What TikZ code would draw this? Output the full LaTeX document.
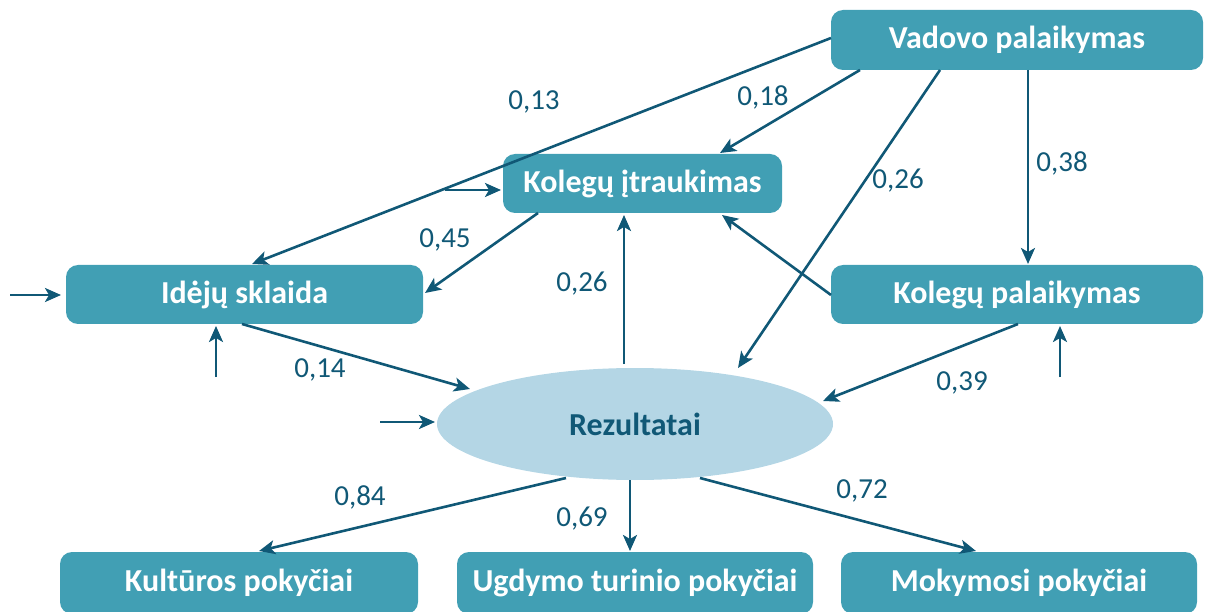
\documentclass[tikz,border=0pt]{standalone}
\usepackage{fontspec}
\setmainfont{Carlito}
\usetikzlibrary{arrows.meta,shapes.geometric}
\definecolor{boxteal}{RGB}{65,159,180}
\definecolor{ovalblue}{RGB}{180,214,229}
\definecolor{linkblue}{RGB}{16,88,118}
\tikzset{
  factor/.style={draw=none, fill=boxteal, rounded corners=12pt, text=white,
    font=\fontsize{32}{34}\selectfont\bfseries, inner sep=0pt},
  outcome/.style={ellipse, fill=ovalblue, draw=none, text=linkblue,
    font=\fontsize{32}{34}\selectfont\bfseries, inner sep=0pt},
  path/.style={draw=linkblue, line width=2.6pt,
    -{Stealth[length=16pt,width=14pt,inset=4pt]}},
  coef/.style={text=linkblue, font=\fontsize{29}{31}\selectfont, inner sep=0pt}
}
\begin{document}
\begin{tikzpicture}[x=1pt,y=-1pt]
\useasboundingbox (0,0) rectangle (1205,612);

% constructs
\node[factor, minimum width=372pt, minimum height=60pt] (vad) at (1017,40) {Vadovo palaikymas};
\node[factor, minimum width=279pt, minimum height=59pt] (itr) at (642.5,183.5) {Kolegų įtraukimas};
\node[factor, minimum width=357pt, minimum height=59pt] (ide) at (244.5,294.5) {Idėjų sklaida};
\node[factor, minimum width=372pt, minimum height=59pt] (kol) at (1017,294.5) {Kolegų palaikymas};
\node[outcome, minimum width=396pt, minimum height=112pt] (rez) at (635,424) {Rezultatai};
\node[factor, minimum width=358pt, minimum height=62pt] (kul) at (239,583) {Kultūros pokyčiai};
\node[factor, minimum width=356pt, minimum height=62pt] (ugd) at (635,583) {Ugdymo turinio pokyčiai};
\node[factor, minimum width=356pt, minimum height=62pt] (mok) at (1019,583) {Mokymosi pokyčiai};

% anchor points on the boxes
\coordinate (vadL) at (831,38);
\coordinate (vadB1) at (860,70);
\coordinate (vadB2) at (940,70);
\coordinate (vadB3) at (1028,70);
\coordinate (ideT) at (252,264);
\coordinate (itrT) at (720,153);
\coordinate (itrB1) at (538,213);
\coordinate (itrB2) at (624,215);
\coordinate (itrB3) at (722,215);
\coordinate (ideR) at (425,293);
\coordinate (ideB) at (242,324);
\coordinate (kolT) at (1028,264);
\coordinate (kolL) at (831,295);
\coordinate (kolB) at (1018,324);
\coordinate (rezT) at (624,364);
\coordinate (rezTL) at (470,389);
\coordinate (rezTR) at (738,368);
\coordinate (rezR) at (823,401);
\coordinate (rezB1) at (566,478);
\coordinate (rezB2) at (630,480);
\coordinate (rezB3) at (700,478);
\coordinate (kulT) at (259,551);
\coordinate (ugdT) at (630,551);
\coordinate (mokT) at (976,551);

% structural paths
\draw[path] (vadL) -- (ideT);
\draw[path] (vadB1) -- (itrT);
\draw[path] (vadB2) -- (rezTR);
\draw[path] (vadB3) -- (kolT);
\draw[path] (kolL) -- (itrB3);
\draw[path] (rezT) -- (itrB2);
\draw[path] (itrB1) -- (ideR);
\draw[path] (ideB) -- (rezTL);
\draw[path] (kolB) -- (rezR);
\draw[path] (rezB1) -- (kulT);
\draw[path] (rezB2) -- (ugdT);
\draw[path] (rezB3) -- (mokT);

% disturbance terms
\coordinate (eIde) at (10,295);
\coordinate (eIdeEnd) at (61,295);
\coordinate (eItr) at (445,190);
\coordinate (eItrEnd) at (501,190);
\coordinate (eIde2) at (216,377);
\coordinate (eIde2End) at (216,326);
\coordinate (eRez) at (380,422);
\coordinate (eRezEnd) at (435,422);
\coordinate (eKol) at (1060,377);
\coordinate (eKolEnd) at (1060,326);
\draw[path] (eIde) -- (eIdeEnd);
\draw[path] (eItr) -- (eItrEnd);
\draw[path] (eIde2) -- (eIde2End);
\draw[path] (eRez) -- (eRezEnd);
\draw[path] (eKol) -- (eKolEnd);

% path coefficients
\node[coef] (c13) at (534,102) {0,13};
\node[coef] (c18) at (763,97) {0,18};
\node[coef] (c26a) at (898,181) {0,26};
\node[coef] (c38) at (1062,163) {0,38};
\node[coef] (c45) at (445,240) {0,45};
\node[coef] (c26b) at (582,284) {0,26};
\node[coef] (c14) at (320,370) {0,14};
\node[coef] (c39) at (962,383) {0,39};
\node[coef] (c84) at (360,497) {0,84};
\node[coef] (c69) at (582,519) {0,69};
\node[coef] (c72) at (862,491) {0,72};
\end{tikzpicture}
\end{document}
